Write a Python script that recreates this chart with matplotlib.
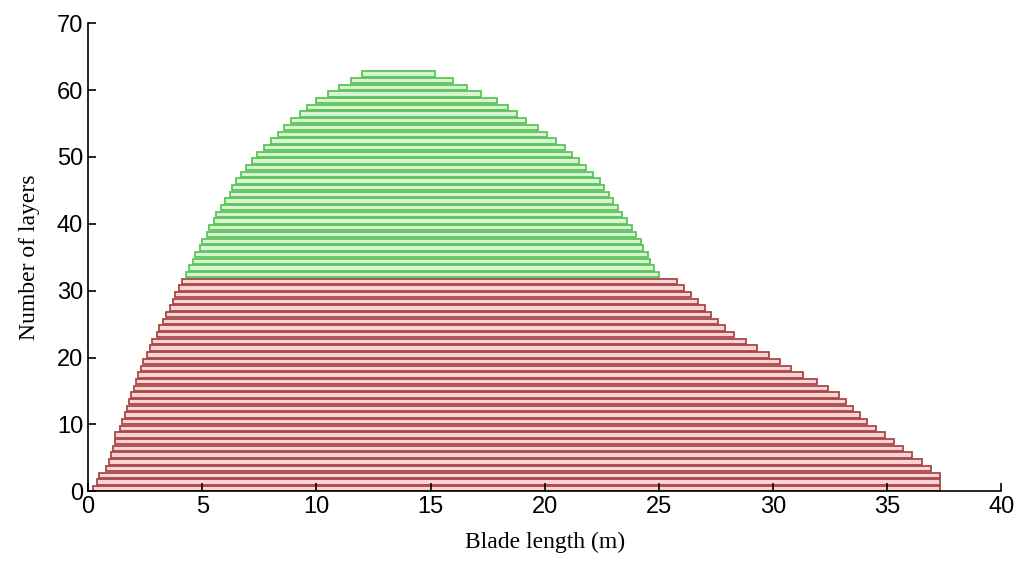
import matplotlib
matplotlib.use("Agg")
import matplotlib.pyplot as plt
import numpy as np

red_start = [0.2,0.4,0.5,0.8,0.9,1.0,1.1,1.2,1.2,1.4,1.5,1.6,1.7,1.8,1.9,2.0,2.1,2.2,2.3,2.4,2.6,2.7,2.8,3.0,3.1,3.3,3.4,3.6,3.7,3.8,4.0,4.1]
red_end = [37.3,37.3,37.3,36.9,36.5,36.1,35.7,35.3,34.9,34.5,34.1,33.8,33.5,33.2,32.9,32.4,31.9,31.3,30.8,30.3,29.8,29.3,28.8,28.3,27.9,27.6,27.3,27.0,26.7,26.4,26.1,25.8]
green_start = [4.3,4.4,4.6,4.7,4.9,5.0,5.2,5.3,5.5,5.6,5.8,6.0,6.2,6.3,6.5,6.7,6.9,7.2,7.4,7.7,8.0,8.3,8.6,8.9,9.3,9.6,10.0,10.5,11.0,11.5,12.0]
green_end = [25.0,24.8,24.6,24.5,24.3,24.2,24.0,23.8,23.6,23.4,23.2,23.0,22.8,22.6,22.4,22.1,21.8,21.5,21.2,20.9,20.5,20.1,19.7,19.2,18.8,18.4,17.9,17.2,16.6,16.0,15.2]

fig = plt.figure(figsize=(10.24, 5.8), dpi=100)
ax = fig.add_axes([0.086, 0.153, 0.892, 0.807])

rs, re = np.array(red_start), np.array(red_end)
gs, ge = np.array(green_start), np.array(green_end)
ry = np.arange(len(rs))
gy = np.arange(len(gs)) + len(rs)
ax.barh(ry, re - rs, left=rs, height=0.8, align='edge',
        facecolor='#fad4d4', edgecolor='#a84848', linewidth=1.3)
ax.barh(gy, ge - gs, left=gs, height=0.8, align='edge',
        facecolor='#d8f5d2', edgecolor='#5cc45c', linewidth=1.3)

ax.set_xlim(0, 40)
ax.set_ylim(0, 70)
ax.set_xticks(range(0, 41, 5))
ax.set_yticks(range(0, 71, 10))
for s in ['top', 'right']:
    ax.spines[s].set_visible(False)
for s in ['left', 'bottom']:
    ax.spines[s].set_linewidth(1.2)
ax.tick_params(direction='in', length=6, width=1.2, labelsize=17)
for lab in ax.get_xticklabels() + ax.get_yticklabels():
    lab.set_fontfamily('Liberation Sans')
ax.set_xlabel('Blade length (m)', fontsize=17, family='Liberation Serif', labelpad=10)
ax.set_ylabel('Number of layers', fontsize=17, family='Liberation Serif', labelpad=12)
fig.savefig('out.png', dpi=100)
